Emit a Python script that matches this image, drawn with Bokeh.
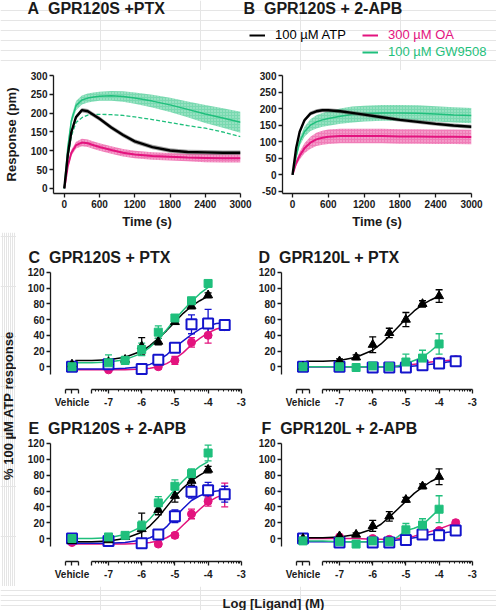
import math
from bokeh.plotting import figure
from bokeh.layouts import row, column
from bokeh.models import (ColumnDataSource, Whisker, TeeHead, FixedTicker,
                          Legend, LegendItem, Range1d)
from bokeh.core.properties import value
from bokeh.embed import file_html
from bokeh.resources import INLINE

# ------------------------------------------------------------------ data
TIME_S = [0, 60, 120, 200, 300, 400, 500, 600, 800, 1000, 1200, 1500, 1800, 2100, 2400, 2700, 3000]

A_ATP = [0, 90, 150, 190, 208, 205, 195, 185, 162, 142, 125, 110, 101, 97, 96, 95, 95]
A_ATP_SEM = [0, 4, 5, 6, 6, 6, 6, 6, 6, 6, 6, 6, 6, 6, 6, 6, 6]
A_OA = [0, 60, 95, 115, 122, 120, 115, 110, 102, 95, 90, 86, 84, 82, 81, 80, 80]
A_OA_SEM = [0, 6, 8, 9, 10, 10, 10, 10, 10, 10, 10, 10, 10, 10, 11, 11, 11]
A_GW = [0, 110, 180, 220, 235, 240, 243, 245, 246, 244, 240, 232, 222, 210, 198, 187, 176]
A_GW_SEM = [0, 8, 10, 12, 12, 12, 12, 12, 13, 14, 15, 17, 19, 21, 24, 26, 28]
A_GW_DASHED = [0, 80, 140, 175, 188, 195, 197, 197, 196, 194, 190, 183, 175, 167, 160, 150, 138]

B_ATP = [0, 80, 130, 165, 185, 192, 195, 195, 192, 187, 182, 174, 166, 160, 154, 149, 145]
B_ATP_SEM = [0, 4, 5, 6, 6, 6, 6, 6, 6, 6, 6, 6, 6, 6, 6, 6, 6]
B_OA = [0, 35, 58, 80, 97, 107, 112, 115, 117, 117, 117, 117, 116, 116, 115, 115, 114]
B_OA_SEM = [0, 8, 12, 15, 18, 20, 21, 22, 22, 22, 22, 22, 22, 22, 22, 22, 22]
B_GW = [0, 55, 100, 130, 150, 160, 166, 170, 177, 182, 185, 187, 187, 186, 184, 181, 179]
B_GW_SEM = [0, 8, 12, 15, 18, 20, 21, 22, 23, 24, 24, 24, 24, 24, 23, 23, 23]

A_TICKS_X = [0, 600, 1200, 1800, 2400, 3000]
A_TICKS_Y = [0, 50, 100, 150, 200, 250, 300]
B_TICKS_Y = [-50, 0, 50, 100, 150, 200, 250, 300]
DR_TICKS_Y = [0, 20, 40, 60, 80, 100, 120]

LEGEND_LABELS = ["100 µM ATP", "300 µM OA", "100 µM GW9508"]
NB = "\u00a0 "  # wide gap between panel letter and panel name
PANEL_TITLES = ["A" + NB + "GPR120S +PTX", "B" + NB + " GPR120S + 2-APB",
                "C" + NB + "GPR120S + PTX", "D" + NB + "GPR120L + PTX",
                "E" + NB + "GPR120S + 2-APB", "F" + NB + "GPR120L + 2-APB"]

# doses (log M); "Vehicle" = no ligand
DOSES_ATP_GW = ["Vehicle", -7, -6.5, -6, -5.5, -5, -4.5, -4]
DOSES_OA_BLUE = ["Vehicle", -7, -6, -5.5, -5, -4.5, -4, -3.5]
FIT_X_ATP_GW = [-8, -7.5, -7, -6.5, -6, -5.75, -5.5, -5.25, -5, -4.75, -4.5, -4.25, -4]
FIT_X_OA_BLUE = [-8, -7.5, -7, -6.5, -6, -5.75, -5.5, -5.25, -5, -4.75, -4.5, -4.25, -4, -3.75, -3.5]

# Panel C  GPR120S + PTX
C_ATP = [3, 6, 9, 26, 32, 57, 77, 91]
C_ATP_ERR = [0, 3, 3, 11, 4, 3, 3, 3]
C_ATP_FIT = [8, 8, 9, 12, 20, 27, 36, 46, 57, 68, 77, 84, 90]
C_GW = [0, 5, 8, 22, 44, 62, 84, 106]
C_GW_ERR = [0, 10, 5, 8, 8, 4, 3, 3]
C_GW_FIT = [5, 5, 6, 9, 17, 25, 35, 47, 60, 72, 83, 93, 101]
C_BLUE = [0, 3, -3, 9, 24, 54, 55, 53]
C_BLUE_ERR = [0, 4, 2, 3, 3, 12, 18, 6]
C_BLUE_FIT = [-3, -3, -3, -2, 0, 3, 8, 15, 25, 33, 41, 48, 52, 55, 56]
C_OA = [0, -4, -4, 0, 8, 31, 40, 51]
C_OA_ERR = [0, 0, 0, 3, 5, 6, 10, 4]
C_OA_FIT = [-4, -4, -4, -4, -3, -2, 0, 4, 10, 18, 28, 36, 43, 48, 51]

# Panel D  GPR120L + PTX
D_ATP = [0, 7, 12, 28, 43, 60, 80, 90]
D_ATP_ERR = [0, 3, 3, 10, 6, 9, 4, 8]
D_ATP_FIT = [7, 7, 8, 12, 21, 29, 39, 50, 61, 71, 79, 85, 90]
D_GW = [0, 0, -1, 1, 0, 6, 11, 29]
D_GW_ERR = [0, 3, 0, 0, 0, 10, 10, 13]
D_GW_FIT = [0, 0, 0, 0, 0, 0, 0, 1, 4, 8, 12, 20, 29]
D_BLUE = [0, 0, -1, -1, -1, 2, 4, 7]
D_BLUE_ERR = [0, 0, 0, 0, 0, 3, 2, 3]
D_BLUE_FIT = [0, 0, 0, 0, 0, 0, 0, 0, 0, 1, 2, 3, 4, 6, 7]
D_OA = [0, 0, 0, 0, 1, 4, 7, 9]
D_OA_ERR = [0, 0, 0, 0, 0, 0, 0, 3]
D_OA_FIT = [0, 0, 0, 0, 0, 0, 0, 1, 2, 3, 4, 6, 7, 8, 9]

# Panel E  GPR120S + 2-APB
E_ATP = [-3, -2, 2, 12, 36, 54, 73, 87]
E_ATP_ERR = [0, 0, 0, 20, 6, 8, 6, 4]
E_ATP_FIT = [-4, -4, -3, 0, 8, 16, 27, 40, 53, 64, 73, 80, 86]
E_GW = [0, 2, 4, 16, 45, 66, 82, 108]
E_GW_ERR = [0, 4, 3, 6, 8, 8, 6, 10]
E_GW_FIT = [0, 0, 1, 5, 15, 25, 37, 50, 62, 73, 83, 91, 97]
E_BLUE = [0, -3, -6, 5, 28, 59, 61, 56]
E_BLUE_ERR = [0, 2, 2, 3, 8, 8, 10, 10]
E_BLUE_FIT = [-6, -6, -6, -5, -2, 1, 6, 15, 27, 38, 48, 54, 58, 60, 61]
E_OA = [-5, -5, -6, -7, 4, 31, 47, 55]
E_OA_ERR = [0, 0, 0, 3, 3, 6, 6, 15]
E_OA_FIT = [-7, -7, -7, -7, -6, -5, -3, 1, 7, 17, 27, 37, 46, 52, 56]

# Panel F  GPR120L + 2-APB
F_ATP = [0, 3, 5, 16, 28, 49, 66, 78]
F_ATP_ERR = [0, 2, 2, 7, 6, 3, 3, 10]
F_ATP_FIT = [1, 1, 2, 5, 12, 18, 27, 37, 47, 57, 65, 72, 77]
F_GW = [-3, -4, -7, -3, -4, 11, 17, 37]
F_GW_ERR = [0, 0, 0, 0, 0, 8, 8, 17]
F_GW_FIT = [-3, -3, -4, -4, -4, -4, -4, 2, 10, 13, 17, 27, 37]
F_BLUE = [0, -5, -5, -5, -2, 5, 4, 10]
F_BLUE_ERR = [0, 0, 0, 0, 0, 0, 0, 3]
F_BLUE_FIT = [-4, -4, -4, -4, -4, -4, -3, -2, -1, 1, 3, 5, 6, 8, 9]
F_OA = [0, 2, 0, -1, -1, 5, 10, 20]
F_OA_ERR = [0, 0, 0, 0, 0, 0, 0, 3]
F_OA_FIT = [0, 0, 0, 0, -1, -1, -1, 0, 1, 3, 6, 9, 12, 16, 20]

# ------------------------------------------------------------------ style
FONT = "Liberation Sans"
INK = "#1a1a1a"
BLACK = "#000000"
PINK = "#e3137e"
GREEN = "#1fbf7c"
BLUE = "#1414cc"
VEH_X = -8.1
TITLE_SIZE = "16px"


def base_fig(w, h, xr, yr, bl, br, bt, bb):
    p = figure(width=w, height=h, x_range=Range1d(*xr), y_range=Range1d(*yr),
               output_backend="svg", toolbar_location=None,
               min_border_left=bl, min_border_right=br,
               min_border_top=bt, min_border_bottom=bb)
    p.outline_line_color = None
    p.xgrid.visible = False
    p.ygrid.visible = False
    p.background_fill_color = "white"
    p.border_fill_color = "white"
    return p


def blank_fig(w, h):
    p = figure(width=w, height=h, x_range=Range1d(0, w), y_range=Range1d(0, h),
               output_backend="svg", toolbar_location=None, min_border=0,
               x_axis_location=None, y_axis_location=None)
    p.outline_line_color = None
    p.background_fill_color = "white"
    p.border_fill_color = "white"
    return p


def style_axis(ax):
    ax.axis_line_color = INK
    ax.axis_line_width = 1.3
    ax.major_tick_line_color = INK
    ax.major_tick_line_width = 1.3
    ax.major_tick_in = 0
    ax.major_tick_out = 4
    ax.minor_tick_line_color = None
    ax.major_label_text_font = FONT
    ax.major_label_text_font_size = "10px"
    ax.major_label_text_font_style = "bold"
    ax.major_label_text_color = INK
    ax.major_label_standoff = 2
    ax.axis_label_text_font = FONT
    ax.axis_label_text_font_size = "13px"
    ax.axis_label_text_font_style = "bold"
    ax.axis_label_text_color = INK
    ax.axis_label_standoff = 3


def label_text(p, x, y, text, size=TITLE_SIZE, bold=True, align="left", angle=0.0):
    p.text(x=[x], y=[y], text=[text], angle=angle, text_align=align,
           text_baseline="middle", text_font=value(FONT), text_font_size=size,
           text_font_style="bold" if bold else "normal", text_color=INK)


def band(p, mean, sem, color, alpha, hatch):
    lo = [m - s for m, s in zip(mean, sem)]
    hi = [m + s for m, s in zip(mean, sem)]
    kw = {}
    if hatch:
        kw = dict(hatch_pattern="dot", hatch_color="white", hatch_alpha=0.55, hatch_scale=3)
    p.varea(x=TIME_S, y1=lo, y2=hi, fill_color=color, fill_alpha=alpha, **kw)


def time_panel(w, bl, br, bb, xr, yr, yticks, atp, atp_s, oa, oa_s, gw, gw_s,
               dashed=None, ylabel=None):
    p = base_fig(w, 162, xr, yr, bl, br, 5, bb)
    band(p, oa, oa_s, PINK, 0.55, True)
    p.line(TIME_S, oa, line_color=PINK, line_width=2)
    band(p, gw, gw_s, GREEN, 0.6, True)
    if dashed is not None:
        p.line(TIME_S, dashed, line_color=GREEN, line_width=1.3, line_dash="4 2")
    p.line(TIME_S, gw, line_color=GREEN, line_width=1.5)
    band(p, atp, atp_s, "#555555", 0.55, False)
    p.line(TIME_S, atp, line_color=BLACK, line_width=2.4)
    p.xaxis.ticker = FixedTicker(ticks=A_TICKS_X)
    p.yaxis.ticker = FixedTicker(ticks=yticks)
    p.yaxis.major_label_overrides = {t: str(t) for t in yticks}
    p.xaxis.axis_label = "Time (s)"
    if ylabel:
        p.yaxis.axis_label = ylabel
    for ax in p.axis:
        style_axis(ax)
    if ylabel:
        p.yaxis.axis_label_standoff = 9
    return p


pA = time_panel(252, 50, 12, 39, (-184, 3000), (-13.3, 300), A_TICKS_Y,
                A_ATP, A_ATP_SEM, A_OA, A_OA_SEM, A_GW, A_GW_SEM,
                dashed=A_GW_DASHED, ylabel="Response (pm)")
pB = time_panel(244, 30, 25, 37, (-168, 3000), (-56.4, 300), B_TICKS_Y,
                B_ATP, B_ATP_SEM, B_OA, B_OA_SEM, B_GW, B_GW_SEM)

# ---- header strip: panel titles A/B and the legend
pHead = blank_fig(496, 70)
label_text(pHead, 27, 62, PANEL_TITLES[0])
label_text(pHead, 243, 62, PANEL_TITLES[1])
# legend-only line renderers (kept outside the visible strip)
legend_lines = [pHead.line(x=[-60, -40], y=[-60, -60], line_color=c, line_width=2)
                for c in (BLACK, PINK, GREEN)]


def add_legend(p, label, rend, color, loc):
    lg = Legend(items=[LegendItem(label=label, renderers=[rend])], location=loc,
                orientation="horizontal")
    lg.border_line_color = None
    lg.background_fill_alpha = 0
    lg.padding = 0
    lg.margin = 0
    lg.spacing = 0
    lg.glyph_width = 16
    lg.glyph_height = 14
    lg.label_standoff = 10
    lg.label_text_font = FONT
    lg.label_text_font_size = "13px"
    lg.label_text_color = color
    lg.label_height = 14
    p.add_layout(lg)


add_legend(pHead, LEGEND_LABELS[0], legend_lines[0], BLACK, (249, 28))
add_legend(pHead, LEGEND_LABELS[1], legend_lines[1], PINK, (362, 28))
add_legend(pHead, LEGEND_LABELS[2], legend_lines[2], GREEN, (362, 11))

# ---- concentration-response panels
DR_XR = (-8.747, -2.964)
DR_YR = (-29, 122.5)
MAJ_X = [-8.3, VEH_X, -7.9, -7.5, -7, -6, -5, -4, -3]
MIN_X = [n + math.log10(k) for n in range(-8, -3) for k in range(2, 10)
         if -7.5 < n + math.log10(k) < -3]
X_LABELS = {-8.3: "", VEH_X: "Vehicle", -7.9: "", -7.5: "", -7: "-7", -6: "-6",
            -5: "-5", -4: "-4", -3: "-3"}


def xpos(doses):
    return [VEH_X if d == "Vehicle" else d for d in doses]


def series(p, doses, y, err, fit_x, fit, color, marker, size, fill, lw=0):
    p.line(fit_x, fit, line_color=color, line_width=1.5)
    xs = xpos(doses)
    keep = [i for i, e in enumerate(err) if e > 0]
    src = ColumnDataSource(dict(x=[xs[i] for i in keep],
                                lo=[y[i] - err[i] for i in keep],
                                hi=[y[i] + err[i] for i in keep]))
    w = Whisker(source=src, base="x", upper="hi", lower="lo", line_color=color, line_width=1.3,
                upper_head=TeeHead(size=7, line_color=color, line_width=1.3),
                lower_head=TeeHead(size=7, line_color=color, line_width=1.3))
    p.add_layout(w)
    return (xs, y, color, marker, size, fill, lw)


def dose_panel(title, toff, standoff, bl, br, bt, bb, h, w, d):
    p = base_fig(w, h, DR_XR, DR_YR, bl, br, bt, bb)
    p.title.text = title
    p.title.align = "left"
    p.title.offset = toff
    p.title.standoff = standoff
    p.title.text_font = FONT
    p.title.text_font_size = TITLE_SIZE
    p.title.text_font_style = "bold"
    p.title.text_color = INK
    marks = [
        series(p, DOSES_OA_BLUE, d[9], d[10], FIT_X_OA_BLUE, d[11], PINK, "circle", 8, PINK),
        series(p, DOSES_OA_BLUE, d[6], d[7], FIT_X_OA_BLUE, d[8], BLUE, "square", 10, "white", 2),
        series(p, DOSES_ATP_GW, d[0], d[1], FIT_X_ATP_GW, d[2], BLACK, "triangle", 9, BLACK),
        series(p, DOSES_ATP_GW, d[3], d[4], FIT_X_ATP_GW, d[5], GREEN, "square", 8, GREEN),
    ]
    for xs, y, color, marker, size, fill, lw in marks:
        p.scatter(xs, y, marker=marker, size=size, fill_color=fill, line_color=color,
                  line_width=lw if lw else 1)
    p.xaxis.ticker = FixedTicker(ticks=MAJ_X, minor_ticks=MIN_X)
    p.xaxis.major_label_overrides = X_LABELS
    p.yaxis.ticker = FixedTicker(ticks=DR_TICKS_Y)
    p.yaxis.major_label_overrides = {t: str(t) for t in DR_TICKS_Y}
    for ax in p.axis:
        style_axis(ax)
    p.xaxis.bounds = (-8.3, -3)
    p.xaxis.axis_line_dash = "13 13 151"
    p.xaxis.minor_tick_line_color = INK
    p.xaxis.minor_tick_out = 2
    p.xaxis.minor_tick_in = 0
    p.xaxis.major_label_standoff = 3
    p.yaxis.bounds = (-10, 120)
    return p


pC = dose_panel(PANEL_TITLES[2], -22, 10, 34, 6, 38, 20, 178, 232,
                [C_ATP, C_ATP_ERR, C_ATP_FIT, C_GW, C_GW_ERR, C_GW_FIT,
                 C_BLUE, C_BLUE_ERR, C_BLUE_FIT, C_OA, C_OA_ERR, C_OA_FIT])
pD = dose_panel(PANEL_TITLES[3], -23, 10, 33, 23, 38, 20, 178, 248,
                [D_ATP, D_ATP_ERR, D_ATP_FIT, D_GW, D_GW_ERR, D_GW_FIT,
                 D_BLUE, D_BLUE_ERR, D_BLUE_FIT, D_OA, D_OA_ERR, D_OA_FIT])
pE = dose_panel(PANEL_TITLES[4], -22, 9, 34, 6, 31, 25, 176, 232,
                [E_ATP, E_ATP_ERR, E_ATP_FIT, E_GW, E_GW_ERR, E_GW_FIT,
                 E_BLUE, E_BLUE_ERR, E_BLUE_FIT, E_OA, E_OA_ERR, E_OA_FIT])
pF = dose_panel(PANEL_TITLES[5], -20, 9, 33, 23, 31, 25, 176, 248,
                [F_ATP, F_ATP_ERR, F_ATP_FIT, F_GW, F_GW_ERR, F_GW_FIT,
                 F_BLUE, F_BLUE_ERR, F_BLUE_FIT, F_OA, F_OA_ERR, F_OA_FIT])

# ---- shared axis titles
pV = blank_fig(16, 354)
label_text(pV, 8, 181, "% 100 µM ATP response", size="13px", align="center",
           angle=math.pi / 2)

pBot = blank_fig(496, 24)
label_text(pBot, 273, 7, "Log [Ligand] (M)", size="13px", align="center")

layout = column(pHead, row(pA, pB), row(pV, column(row(pC, pD), row(pE, pF))), pBot)
open("out.html", "w").write(file_html(layout, INLINE))
